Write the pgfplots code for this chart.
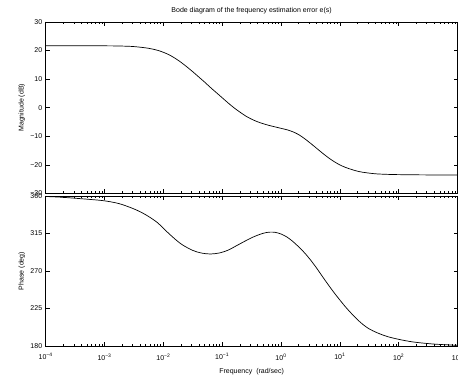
\documentclass[border=0pt]{standalone}
\usepackage{pgfplots}
\usepackage{pgfplotstable}
\pgfplotsset{compat=1.18}
\usepackage{fontspec}
\setmainfont{Liberation Sans}

\pgfplotstableread{
lx db
-4.00 21.70
-3.50 21.69
-3.00 21.66
-2.75 21.60
-2.50 21.40
-2.25 20.80
-2.10 20.10
-2.00 19.40
-1.90 18.50
-1.80 17.30
-1.70 15.90
-1.60 14.30
-1.50 12.60
-1.40 10.80
-1.30 9.00
-1.20 7.10
-1.10 5.30
-1.00 3.50
-0.90 1.70
-0.80 0.00
-0.70 -1.50
-0.60 -2.90
-0.50 -4.00
-0.40 -4.90
-0.30 -5.60
-0.20 -6.20
-0.10 -6.70
0.00 -7.20
0.10 -7.70
0.20 -8.40
0.30 -9.40
0.40 -10.80
0.50 -12.40
0.60 -14.10
0.70 -15.80
0.80 -17.40
0.90 -18.80
1.00 -20.00
1.10 -20.90
1.20 -21.60
1.30 -22.20
1.40 -22.60
1.60 -23.10
1.80 -23.30
2.00 -23.40
2.50 -23.50
3.00 -23.50
}\magdata

\pgfplotstableread{
lx deg
-4.00 359.4
-3.75 358.6
-3.50 357.3
-3.25 355.9
-3.00 354.2
-2.75 350.8
-2.50 344.5
-2.30 337.5
-2.10 328.0
-1.90 314.5
-1.70 302.5
-1.50 294.7
-1.35 291.5
-1.20 290.4
-1.05 291.6
-0.90 295.0
-0.75 300.6
-0.60 306.3
-0.45 311.5
-0.30 315.3
-0.20 316.6
-0.10 316.4
0.00 314.4
0.10 310.8
0.20 305.5
0.30 299.0
0.40 291.8
0.50 283.4
0.60 274.0
0.70 263.8
0.80 253.8
0.90 244.2
1.00 235.2
1.10 226.6
1.20 218.8
1.30 211.6
1.40 205.4
1.50 200.5
1.63 196.0
1.80 191.5
2.00 188.0
2.25 184.8
2.60 182.3
3.00 180.8
}\phasedata

\pgfplotsset{
  every axis/.append style={
    scale only axis, width=411.8pt,
    axis line style={line width=0.9pt},
    tick style={black, line width=0.5pt},
    major tick length=4pt, minor tick length=2.2pt,
    tick align=inside,
    tick label style={font=\fontsize{7}{8}\selectfont},
    label style={font=\fontsize{7}{8}\selectfont},
    /pgf/number format/assume math mode=true,
  },
  every axis y label/.style={at={(axis description cs:0,0.5)}, xshift=-24pt, rotate=90, anchor=center},
}

\begin{document}
\begin{tikzpicture}
\path[use as bounding box] (0,0) rectangle (458pt,379pt);

\begin{axis}[
  xmode=log, xmin=1e-4, xmax=1e3,
  xtick={1e-4,1e-3,1e-2,1e-1,1,1e1,1e2,1e3},
  at={(45.7pt,185.5pt)}, anchor=south west, height=171.5pt,
  ymin=-30, ymax=30, ytick={-30,-20,-10,0,10,20,30},
  yticklabels={−30,−20,−10,0,10,20,30},
  xticklabels={},
  ylabel={Magnitude (dB)},
  title={Bode diagram of the frequency estimation error e(s)},
  title style={font=\fontsize{7}{8}\selectfont, at={(axis description cs:0.5,1)}, anchor=center, yshift=5pt},
]
\addplot[black, line width=0.7pt, smooth, no markers] table[x expr=10^\thisrow{lx}, y=db] {\magdata};
\end{axis}

\begin{axis}[
  xmode=log, xmin=1e-4, xmax=1e3,
  xtick={1e-4,1e-3,1e-2,1e-1,1,1e1,1e2,1e3},
  at={(45.7pt,33pt)}, anchor=south west, height=150pt,
  ymin=180, ymax=360, ytick={180,225,270,315,360},
  xticklabels={10\textsuperscript{−4},10\textsuperscript{−3},10\textsuperscript{−2},10\textsuperscript{−1},10\textsuperscript{0},10\textsuperscript{1},10\textsuperscript{2},10\textsuperscript{3}},
  xticklabel style={yshift=-4pt},
  ylabel={Phase (deg)},
  xlabel={Frequency\ \ (rad/sec)},
  xlabel style={at={(axis description cs:0.5,0)}, anchor=center, yshift=-26pt},
]
\addplot[black, line width=0.7pt, smooth, no markers] table[x expr=10^\thisrow{lx}, y=deg] {\phasedata};
\end{axis}
\end{tikzpicture}
\end{document}
